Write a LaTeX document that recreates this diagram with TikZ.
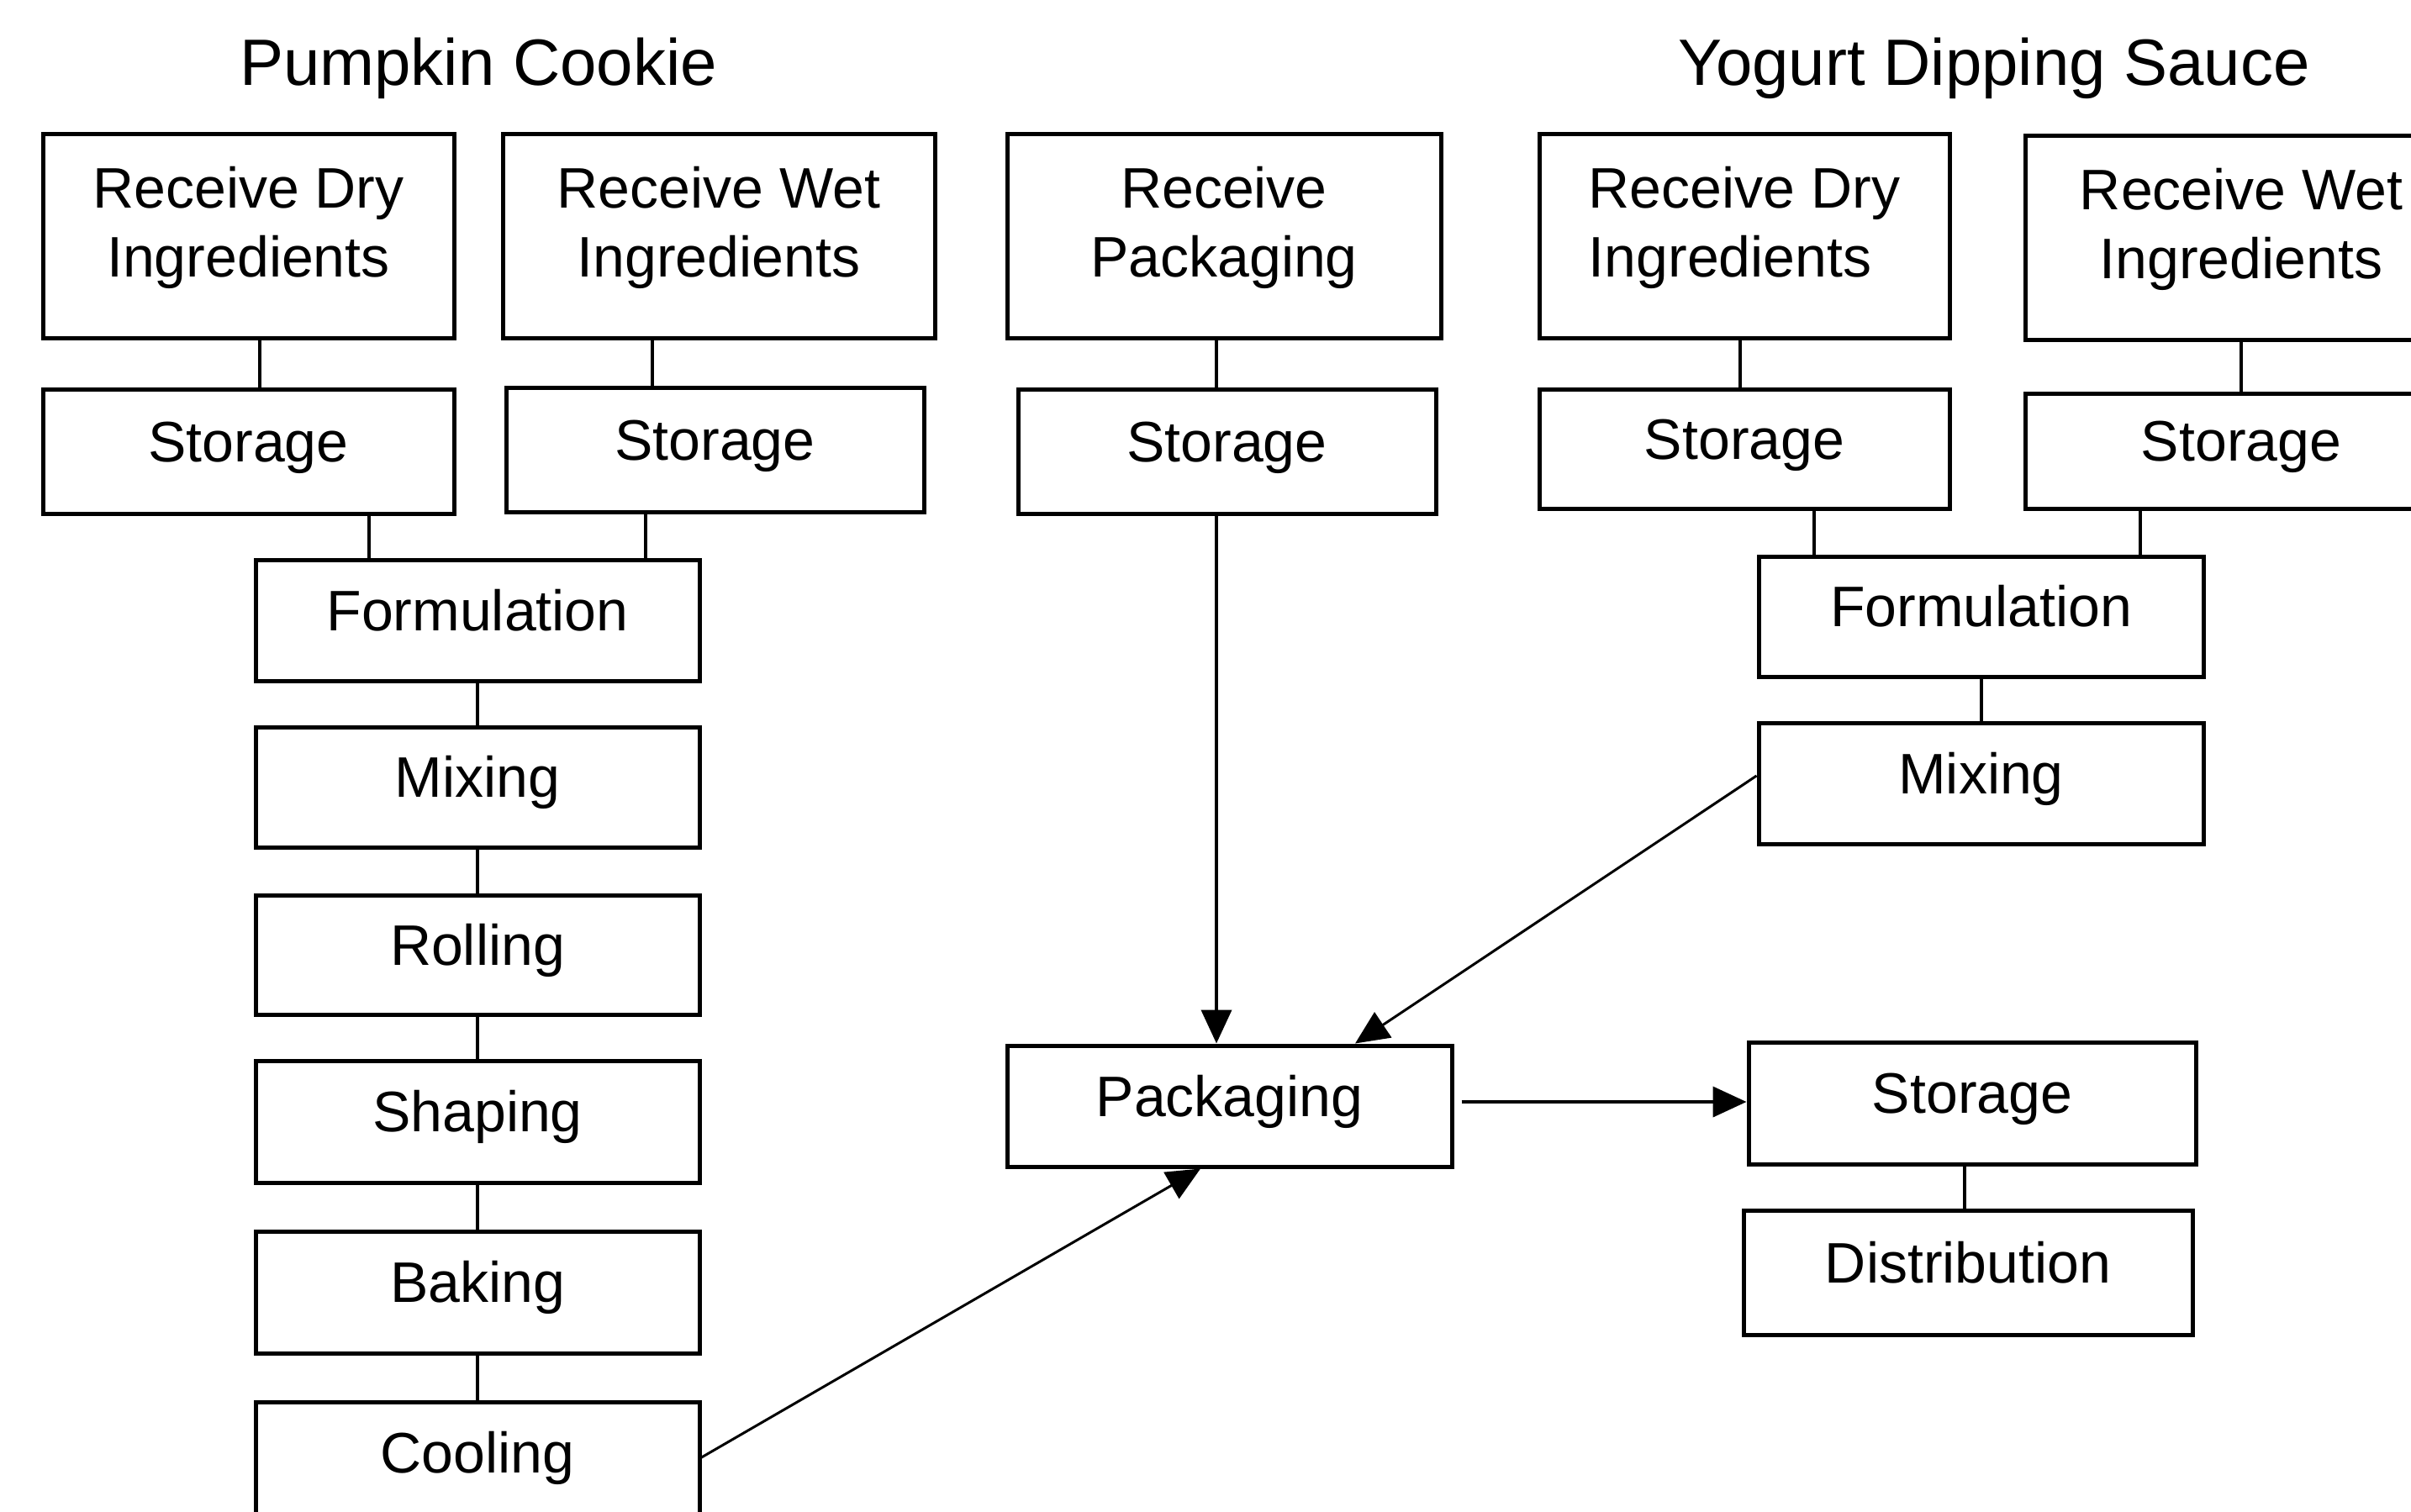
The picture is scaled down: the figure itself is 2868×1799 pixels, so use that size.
\documentclass[tikz,border=0pt]{standalone}
\usepackage{fontspec}
\setmainfont{Liberation Sans}
\usetikzlibrary{arrows.meta}
\newcommand\lowstrut{\rule[-34pt]{0pt}{1pt}}
\begin{document}
\begin{tikzpicture}[x=1pt,y=-1pt,
  box/.style={draw,line width=5pt,inner sep=0pt,
    font=\fontsize{68pt}{82pt}\selectfont,text height=51pt,text depth=27pt},
  tbox/.style={draw,line width=5pt,inner sep=0pt,align=center,
    font=\fontsize{68pt}{82pt}\selectfont},
  ttl/.style={anchor=base,inner sep=0pt,font=\fontsize{78pt}{90pt}\selectfont},
  conn/.style={line width=4pt},
  diag/.style={line width=3pt},
  arr/.style={-{Triangle[width=36pt,length=40pt]}}]
\fill[white] (0,0) rectangle (2868,1799);
\useasboundingbox (0,0) rectangle (2868,1799);

% titles
\node[ttl] (t1) at (569,101) {Pumpkin Cookie};
\node[ttl] (t2) at (2372,101) {Yogurt Dipping Sauce};

% top row
\node[tbox,minimum width=489pt,minimum height=243pt] (rdi1) at (295.5,280.5) {Receive Dry\\Ingredients\lowstrut};
\node[tbox,minimum width=514pt,minimum height=243pt] (rwi1) at (855,280.5) {Receive Wet\\Ingredients\lowstrut};
\node[tbox,minimum width=516pt,minimum height=243pt] (rp) at (1456,280.5) {Receive\\Packaging\lowstrut};
\node[tbox,align=left,minimum width=488pt,minimum height=243pt] (rdi2) at (2075,280.5) {Receive Dry\\Ingredients\lowstrut};
\node[tbox,minimum width=514pt,minimum height=243pt] (rwi2) at (2666,283) {Receive Wet\\Ingredients\lowstrut};

% storage row
\node[box,minimum width=489pt,minimum height=148pt] (s1) at (295.5,537) {Storage};
\node[box,minimum width=497pt,minimum height=148pt] (s2) at (850.5,535) {Storage};
\node[box,minimum width=497pt,minimum height=148pt] (s3) at (1459.5,537) {Storage};
\node[box,minimum width=488pt,minimum height=142pt] (s4) at (2075,534) {Storage};
\node[box,minimum width=514pt,minimum height=137pt] (s5) at (2666,536.5) {Storage};

% pumpkin chain
\node[box,minimum width=528pt,minimum height=144pt] (f1) at (568,738) {Formulation};
\node[box,minimum width=528pt,minimum height=143pt] (m1) at (568,936.5) {Mixing};
\node[box,minimum width=528pt,minimum height=142pt] (r1) at (568,1136) {Rolling};
\node[box,minimum width=528pt,minimum height=145pt] (sh1) at (568,1334.5) {Shaping};
\node[box,minimum width=528pt,minimum height=145pt] (b1) at (568,1537.5) {Baking};
\node[box,minimum width=528pt,minimum height=144pt] (c1) at (568,1740) {Cooling};

% yogurt chain
\node[box,minimum width=529pt,minimum height=143pt] (f2) at (2356.5,733.5) {Formulation};
\node[box,minimum width=529pt,minimum height=144pt] (m2) at (2356.5,932) {Mixing};

% packaging and after
\node[box,minimum width=529pt,minimum height=144pt] (pk) at (1462.5,1316) {Packaging};
\node[box,minimum width=532pt,minimum height=145pt] (s6) at (2346,1312.5) {Storage};
\node[box,minimum width=534pt,minimum height=148pt] (d) at (2341,1514) {Distribution};

% connectors
\draw[conn] ([xshift=13.5pt]rdi1.south) -- ([xshift=13.5pt]rdi1.south |- s1.north);
\draw[conn] ([xshift=-79pt]rwi1.south) -- ([xshift=-79pt]rwi1.south |- s2.north);
\draw[conn] ([xshift=143.5pt]s1.south) -- ([xshift=143.5pt]s1.south |- f1.north);
\draw[conn] ([xshift=-82.5pt]s2.south) -- ([xshift=-82.5pt]s2.south |- f1.north);
\draw[conn] (f1.south) -- (m1.north);
\draw[conn] (m1.south) -- (r1.north);
\draw[conn] (r1.south) -- (sh1.north);
\draw[conn] (sh1.south) -- (b1.north);
\draw[conn] (b1.south) -- (c1.north);

\draw[conn] ([xshift=-9pt]rp.south) -- ([xshift=-9pt]rp.south |- s3.north);
\draw[conn,arr] ([xshift=-12.5pt]s3.south) -- ([xshift=-12.5pt]s3.south |- pk.north);

\draw[conn] ([xshift=-5pt]rdi2.south) -- ([xshift=-5pt]rdi2.south |- s4.north);
\draw[conn] (rwi2.south) -- (rwi2.south |- s5.north);
\draw[conn] ([xshift=83pt]s4.south) -- ([xshift=83pt]s4.south |- f2.north);
\draw[conn] ([xshift=-120pt]s5.south) -- ([xshift=-120pt]s5.south |- f2.north);
\draw[conn] (f2.south) -- (m2.north);

\draw[diag,arr] ([yshift=6pt]c1.east) -- ([xshift=-34.5pt]pk.south);
\draw[diag,arr] ([yshift=9pt]m2.west) -- ([xshift=149.5pt]pk.north);
\draw[conn,arr] ([xshift=9pt,yshift=5pt]pk.east) -- ([yshift=5pt]pk.east -| s6.west);
\draw[conn] ([xshift=-9pt]s6.south) -- ([xshift=-9pt]s6.south |- d.north);
\end{tikzpicture}
\end{document}
